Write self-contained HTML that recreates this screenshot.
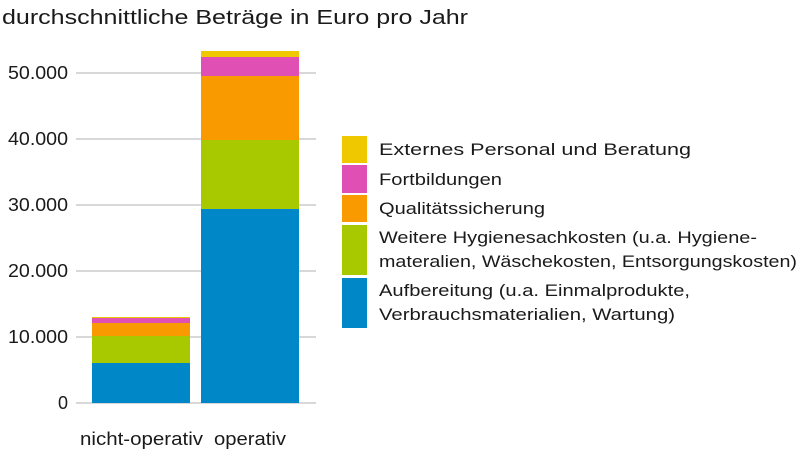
<!DOCTYPE html>
<html><head><meta charset="utf-8"><style>
html,body{margin:0;padding:0;background:#fff;}
svg text{font-family:"Liberation Sans",sans-serif;fill:#1a1a1a;}
</style></head><body>
<svg width="800" height="451" viewBox="0 0 800 451" xmlns="http://www.w3.org/2000/svg">
<text x="2" y="24" font-size="20" textLength="466" lengthAdjust="spacingAndGlyphs">durchschnittliche Beträge in Euro pro Jahr</text>
<g stroke="#cccccc" stroke-width="1.5">
<line x1="76" y1="73" x2="316" y2="73"/><line x1="76" y1="139" x2="316" y2="139"/>
<line x1="76" y1="205" x2="316" y2="205"/><line x1="76" y1="271" x2="316" y2="271"/>
<line x1="76" y1="337" x2="316" y2="337"/><line x1="76" y1="403" x2="316" y2="403"/>
</g>
<g font-size="18" text-anchor="end">
<text x="68" y="79" textLength="60" lengthAdjust="spacingAndGlyphs">50.000</text><text x="68" y="145" textLength="60" lengthAdjust="spacingAndGlyphs">40.000</text><text x="68" y="211" textLength="60" lengthAdjust="spacingAndGlyphs">30.000</text>
<text x="68" y="277" textLength="60" lengthAdjust="spacingAndGlyphs">20.000</text><text x="68" y="343" textLength="60" lengthAdjust="spacingAndGlyphs">10.000</text><text x="68" y="409">0</text>
</g>
<rect x="92" y="317" width="98" height="2" fill="#f0c800"/>
<rect x="92" y="318" width="98" height="5" fill="#e04fb4"/>
<rect x="92" y="323" width="98" height="13" fill="#f99a00"/>
<rect x="92" y="336" width="98" height="27" fill="#a8c800"/>
<rect x="92" y="363" width="98" height="40" fill="#0087c8"/>
<rect x="201" y="51" width="98" height="6" fill="#f0c800"/>
<rect x="201" y="57" width="98" height="19" fill="#e04fb4"/>
<rect x="201" y="76" width="98" height="64" fill="#f99a00"/>
<rect x="201" y="140" width="98" height="69" fill="#a8c800"/>
<rect x="201" y="209" width="98" height="194" fill="#0087c8"/>
<g font-size="18">
<text x="80" y="445" textLength="123" lengthAdjust="spacingAndGlyphs">nicht-operativ</text><text x="214" y="445" textLength="72" lengthAdjust="spacingAndGlyphs">operativ</text>
</g>
<rect x="342" y="136" width="25" height="27" fill="#f0c800"/>
<rect x="342" y="165" width="25" height="28" fill="#e04fb4"/>
<rect x="342" y="195" width="25" height="27" fill="#f99a00"/>
<rect x="342" y="225" width="25" height="50" fill="#a8c800"/>
<rect x="342" y="278" width="25" height="50" fill="#0087c8"/>
<g font-size="17">
<text x="379" y="155" textLength="312" lengthAdjust="spacingAndGlyphs">Externes Personal und Beratung</text>
<text x="379" y="185" textLength="123" lengthAdjust="spacingAndGlyphs">Fortbildungen</text>
<text x="379" y="214" textLength="166" lengthAdjust="spacingAndGlyphs">Qualitätssicherung</text>
<text x="379" y="243" textLength="378" lengthAdjust="spacingAndGlyphs">Weitere Hygienesachkosten (u.a. Hygiene-</text>
<text x="379" y="267" textLength="418" lengthAdjust="spacingAndGlyphs">materalien, Wäschekosten, Entsorgungskosten)</text>
<text x="379" y="296" textLength="311" lengthAdjust="spacingAndGlyphs">Aufbereitung (u.a. Einmalprodukte,</text>
<text x="379" y="320" textLength="296" lengthAdjust="spacingAndGlyphs">Verbrauchsmaterialien, Wartung)</text>
</g>
</svg>
</body></html>
